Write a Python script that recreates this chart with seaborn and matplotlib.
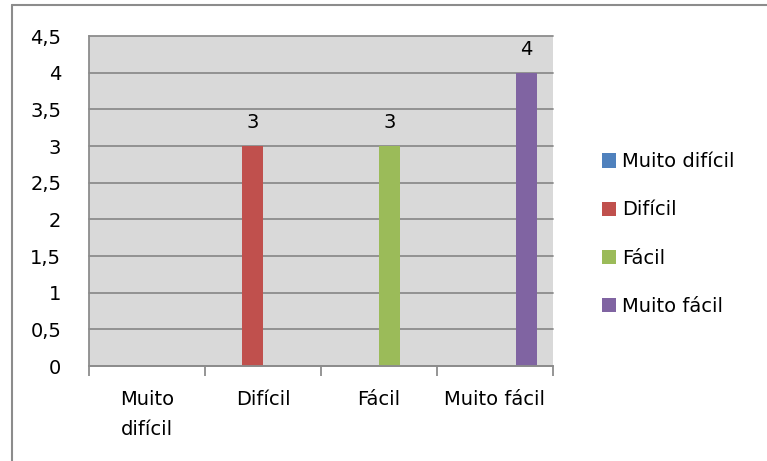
import numpy as np
import pandas as pd
import matplotlib.pyplot as plt
import seaborn as sns
from matplotlib.lines import Line2D
from matplotlib.patches import Patch
from matplotlib.ticker import FuncFormatter

# categories / series (Excel clustered columns, one series per category)
categories = ['Muito difícil', 'Difícil', 'Fácil', 'Muito fácil']
xlabels = ['Muito\ndifícil', 'Difícil', 'Fácil', 'Muito fácil']
values = [0, 3, 3, 4]
colors = ['#4F81BD', '#C0504D', '#9BBB59', '#8064A2']
yticks = [0, 0.5, 1, 1.5, 2, 2.5, 3, 3.5, 4, 4.5]

rows = []
for i, cat in enumerate(categories):
    for j, ser in enumerate(categories):
        rows.append({'cat': cat, 'ser': ser, 'val': values[i] if i == j else np.nan})
df = pd.DataFrame(rows)

FS = 14
sns.set_theme(style='white')
plt.rcParams['font.family'] = ['DejaVu Sans']
plt.rcParams['font.size'] = FS

fig = plt.figure(figsize=(7.67, 4.61), dpi=100)
ax = fig.add_axes([89/767, 1-366/461, (553-89)/767, (366-36)/461])
ax.set_facecolor('#D9D9D9')

sns.barplot(data=df, x='cat', y='val', hue='ser', order=categories, hue_order=categories,
            palette=colors, errorbar=None, width=4/5.5, dodge=True, ax=ax,
            legend=False, saturation=1, linewidth=0, edgecolor='none')

for cont in ax.containers:
    labs = ['%g' % b.get_height() if b.get_height() > 0 else '' for b in cont]
    ax.bar_label(cont, labels=labs, padding=10, fontsize=FS, color='#000000')

ax.set_ylim(0, 4.5)
ax.set_xlim(-0.5, 3.5)
ax.set_yticks(yticks)
ax.yaxis.set_major_formatter(FuncFormatter(lambda v, p: ('%g' % v).replace('.', ',')))
ax.grid(axis='y', color='#8C8C8C', linewidth=1.3)
for gl in ax.get_ygridlines():
    gl.set_clip_on(False)
ax.set_axisbelow(True)
ax.tick_params(axis='y', length=7, color='#8C8C8C', width=1.3, pad=13, labelsize=FS,
               labelcolor='#000000')

ax.set_xticks(range(len(categories)))
ax.set_xticklabels(xlabels, fontsize=FS, linespacing=1.75)
ax.set_xticks(np.arange(-0.5, 4, 1), minor=True)
ax.tick_params(axis='x', which='major', length=0, pad=17, labelcolor='#000000')
ax.tick_params(axis='x', which='minor', length=7, color='#8C8C8C', width=1.3, bottom=True)
ax.set_xlabel('')
ax.set_ylabel('')

for s in ['top', 'right']:
    ax.spines[s].set_visible(False)
for s in ['left', 'bottom']:
    ax.spines[s].set_color('#8C8C8C')
    ax.spines[s].set_linewidth(1.3)

handles = [Patch(facecolor=c, edgecolor='none', label=l) for c, l in zip(colors, categories)]
fig.legend(handles=handles, loc='center left', bbox_to_anchor=(584/767, 1-234/461),
           frameon=False, handlelength=0.75, handleheight=0.75, handletextpad=0.3,
           labelspacing=1.5, fontsize=FS, labelcolor='#000000')

# chart area border (top and left visible)
fig.add_artist(Line2D([12/767, 12/767], [0, 1-5/461], transform=fig.transFigure,
                      color='#8C8C8C', linewidth=1.5))
fig.add_artist(Line2D([12/767, 1], [1-5/461, 1-5/461], transform=fig.transFigure,
                      color='#8C8C8C', linewidth=1.5))

fig.savefig('out.png', dpi=100)
